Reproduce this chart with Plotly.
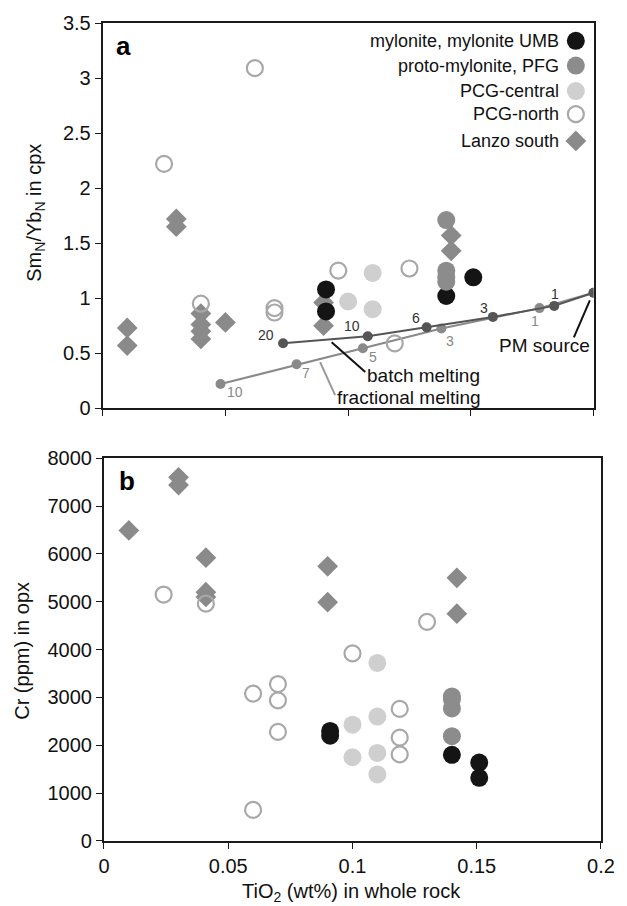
import plotly.graph_objects as go

# ---------------- data: panel a (SmN/YbN in cpx) ----------------
myl_a_x = [0.091, 0.091, 0.14, 0.151]
myl_a_y = [1.08, 0.88, 1.02, 1.19]
proto_a_x = [0.14, 0.14, 0.14, 0.14]
proto_a_y = [1.71, 1.25, 1.19, 1.15]
central_a_x = [0.10, 0.11, 0.11]
central_a_y = [0.97, 1.23, 0.90]
north_a_x = [0.062, 0.025, 0.04, 0.07, 0.07, 0.096, 0.125, 0.119]
north_a_y = [3.09, 2.22, 0.95, 0.91, 0.87, 1.25, 1.27, 0.59]
lanzo_a_x = [0.03, 0.03, 0.01, 0.01, 0.04, 0.04, 0.04, 0.04, 0.05, 0.09, 0.09, 0.142, 0.142]
lanzo_a_y = [1.72, 1.65, 0.73, 0.57, 0.86, 0.76, 0.70, 0.63, 0.78, 0.96, 0.75, 1.57, 1.43]

batch_x = [0.2, 0.184, 0.159, 0.132, 0.108, 0.0735]
batch_y = [1.05, 0.93, 0.83, 0.735, 0.655, 0.59]
batch_lbl = ["", "1", "3", "6", "10", "20"]
frac_x = [0.2, 0.178, 0.138, 0.106, 0.079, 0.048]
frac_y = [1.05, 0.91, 0.725, 0.545, 0.40, 0.22]
frac_lbl = ["", "1", "3", "5", "7", "10"]

# ---------------- data: panel b (Cr in opx) ----------------
myl_b_x = [0.091, 0.091, 0.14, 0.151, 0.151]
myl_b_y = [2300, 2200, 1800, 1640, 1320]
proto_b_x = [0.14, 0.14, 0.14, 0.14]
proto_b_y = [3020, 2960, 2770, 2190]
central_b_x = [0.10, 0.10, 0.11, 0.11, 0.11, 0.11]
central_b_y = [2430, 1750, 3720, 2600, 1840, 1390]
north_b_x = [0.024, 0.041, 0.06, 0.06, 0.07, 0.07, 0.07, 0.10, 0.119, 0.119, 0.119, 0.13]
north_b_y = [5150, 4960, 3080, 650, 3280, 2940, 2280, 3920, 2760, 2160, 1810, 4580]
lanzo_b_x = [0.01, 0.03, 0.03, 0.041, 0.041, 0.041, 0.09, 0.09, 0.142, 0.142]
lanzo_b_y = [6490, 7600, 7440, 5920, 5200, 5100, 5740, 4990, 5500, 4750]

series_names = ["mylonite, mylonite UMB", "proto-mylonite, PFG", "PCG-central", "PCG-north", "Lanzo south"]
y_ticks_a = [0, 0.5, 1, 1.5, 2, 2.5, 3, 3.5]
y_ticks_b = [0, 1000, 2000, 3000, 4000, 5000, 6000, 7000, 8000]
x_ticks = [0, 0.05, 0.1, 0.15, 0.2]
x_ticklabels = ["0", "0.05", "0.1", "0.15", "0.2"]

# ---------------- styles ----------------
FONT = "Liberation Sans, Arial, sans-serif"
styles = {
    "mylonite, mylonite UMB": dict(symbol="circle", size=18, color="#141414", line=dict(width=0)),
    "proto-mylonite, PFG": dict(symbol="circle", size=18, color="#8c8c8c", line=dict(width=0)),
    "PCG-central": dict(symbol="circle", size=18, color="#cfcfcf", line=dict(width=0)),
    "PCG-north": dict(symbol="circle-open", size=16, color="#a8a8a8", line=dict(width=2.2, color="#a8a8a8")),
    "Lanzo south": dict(symbol="diamond", size=16, color="#8a8a8a", line=dict(width=0)),
}

fig = go.Figure()

# melting curves (panel a)
fig.add_trace(go.Scatter(x=frac_x, y=frac_y, mode="lines+markers", xaxis="x", yaxis="y",
                         line=dict(color="#8a8a8a", width=2), marker=dict(size=10, color="#8a8a8a"),
                         showlegend=False, hoverinfo="skip"))
fig.add_trace(go.Scatter(x=batch_x, y=batch_y, mode="lines+markers", xaxis="x", yaxis="y",
                         line=dict(color="#555555", width=2), marker=dict(size=10, color="#555555"),
                         showlegend=False, hoverinfo="skip"))

panel_a = {
    "Lanzo south": (lanzo_a_x, lanzo_a_y),
    "mylonite, mylonite UMB": (myl_a_x, myl_a_y),
    "proto-mylonite, PFG": (proto_a_x, proto_a_y),
    "PCG-central": (central_a_x, central_a_y),
    "PCG-north": (north_a_x, north_a_y),
}
panel_b = {
    "Lanzo south": (lanzo_b_x, lanzo_b_y),
    "mylonite, mylonite UMB": (myl_b_x, myl_b_y),
    "proto-mylonite, PFG": (proto_b_x, proto_b_y),
    "PCG-central": (central_b_x, central_b_y),
    "PCG-north": (north_b_x, north_b_y),
}
for name, (xs, ys) in panel_a.items():
    fig.add_trace(go.Scatter(x=xs, y=ys, mode="markers", xaxis="x", yaxis="y",
                             marker=styles[name], name=name, showlegend=False))
for name, (xs, ys) in panel_b.items():
    fig.add_trace(go.Scatter(x=xs, y=ys, mode="markers", xaxis="x2", yaxis="y2",
                             marker=styles[name], name=name, showlegend=False))

# manual legend (marker to the right of right-aligned text)
leg_mark_x = 0.1928
leg_text_x = 0.1866
leg_y = [3.338, 3.113, 2.882, 2.672, 2.429]
for name, ly in zip(series_names, leg_y):
    fig.add_trace(go.Scatter(x=[leg_mark_x], y=[ly], mode="markers", xaxis="x", yaxis="y",
                             marker=styles[name], showlegend=False, hoverinfo="skip"))
    fig.add_annotation(x=leg_text_x, y=ly, xref="x", yref="y", text=name, showarrow=False,
                       xanchor="right", yanchor="middle",
                       font=dict(family=FONT, size=18, color="#111"))

annotations = []
# curve point labels
b_shift = {"1": (1, 12), "3": (-9, 9), "6": (-11, 9), "10": (-16, 10), "20": (-17, 8)}
for x, y, t in zip(batch_x, batch_y, batch_lbl):
    if t:
        dx, dy = b_shift[t]
        annotations.append(dict(x=x, y=y, xref="x", yref="y", text=t, showarrow=False,
                                xshift=dx, yshift=dy, font=dict(family=FONT, size=14, color="#333")))
f_shift = {"1": (-5, -13), "3": (9, -13), "5": (10, -9), "7": (9, -9), "10": (15, -8)}
for x, y, t in zip(frac_x, frac_y, frac_lbl):
    if t:
        dx, dy = f_shift[t]
        annotations.append(dict(x=x, y=y, xref="x", yref="y", text=t, showarrow=False,
                                xshift=dx, yshift=dy, font=dict(family=FONT, size=14, color="#888")))

# curve name labels with leader lines
annotations += [
    dict(x=0.107, y=0.30, xref="x", yref="y", text="batch melting", showarrow=False,
         xanchor="left", font=dict(family=FONT, size=19, color="#111")),
    dict(x=0.0947, y=0.10, xref="x", yref="y", text="fractional melting", showarrow=False,
         xanchor="left", font=dict(family=FONT, size=19, color="#111")),
    dict(x=0.1995, y=0.57, xref="x", yref="y", text="PM source", showarrow=False,
         xanchor="right", font=dict(family=FONT, size=19, color="#111")),
    dict(x=0.025, y=0.972, xref="paper", yref="paper", text="<b>a</b>", showarrow=False,
         xanchor="left", yanchor="middle", font=dict(family=FONT, size=26, color="#000")),
    dict(x=0.031, y=0.4395, xref="paper", yref="paper", text="<b>b</b>", showarrow=False,
         xanchor="left", yanchor="middle", font=dict(family=FONT, size=26, color="#000")),
    dict(x=-0.135, y=0.7676, xref="paper", yref="paper", text="Sm<sub>N</sub>/Yb<sub>N</sub> in cpx",
         showarrow=False, textangle=-90, xanchor="center", yanchor="middle",
         font=dict(family=FONT, size=20, color="#111")),
    dict(x=-0.1605, y=0.2324, xref="paper", yref="paper", text="Cr (ppm) in opx",
         showarrow=False, textangle=-90, xanchor="center", yanchor="middle",
         font=dict(family=FONT, size=20, color="#111")),
    dict(x=0.501, y=-0.063, xref="paper", yref="paper", text="TiO<sub>2</sub> (wt%) in whole rock",
         showarrow=False, xanchor="center", yanchor="middle", font=dict(family=FONT, size=20, color="#111")),
]
for a in annotations:
    fig.add_annotation(**a)

shapes = [
    dict(type="line", xref="x", yref="y", x0=0.107, y0=0.33, x1=0.0933, y1=0.60,
         line=dict(color="#111", width=2)),
    dict(type="line", xref="x", yref="y", x0=0.0947, y0=0.12, x1=0.0886, y1=0.42,
         line=dict(color="#999", width=2)),
    dict(type="line", xref="x", yref="y", x0=0.192, y0=0.645, x1=0.1985, y1=0.98,
         line=dict(color="#111", width=2)),
]

axis_common = dict(showline=True, linecolor="#1a1a1a", linewidth=2, mirror=True,
                   ticks="outside", ticklen=6, tickwidth=1, tickcolor="#1a1a1a",
                   showgrid=False, zeroline=False,
                   tickfont=dict(family=FONT, size=20, color="#111"))

fig.update_layout(
    width=627, height=906,
    margin=dict(l=102, r=14, t=15, b=65),
    plot_bgcolor="white", paper_bgcolor="white",
    showlegend=False,
    shapes=shapes,
    xaxis=dict(domain=[0.0014, 0.985], range=[0, 0.2], anchor="y", tickvals=x_ticks,
               showticklabels=False, **axis_common),
    yaxis=dict(domain=[0.529, 1], range=[0, 3.5], anchor="x", tickvals=y_ticks_a,
               ticktext=[f"{v:g}" for v in y_ticks_a], **axis_common),
    xaxis2=dict(domain=[0.004, 1], range=[0, 0.2], anchor="y2", tickvals=x_ticks,
                ticktext=x_ticklabels, **axis_common),
    yaxis2=dict(domain=[0, 0.468], range=[0, 8000], anchor="x2", tickvals=y_ticks_b,
                ticktext=[str(v) for v in y_ticks_b], **axis_common),
)

fig.write_html("out.html", config={"displayModeBar": False},
               post_script="document.body.style.margin='0';document.body.style.overflow='hidden';")
